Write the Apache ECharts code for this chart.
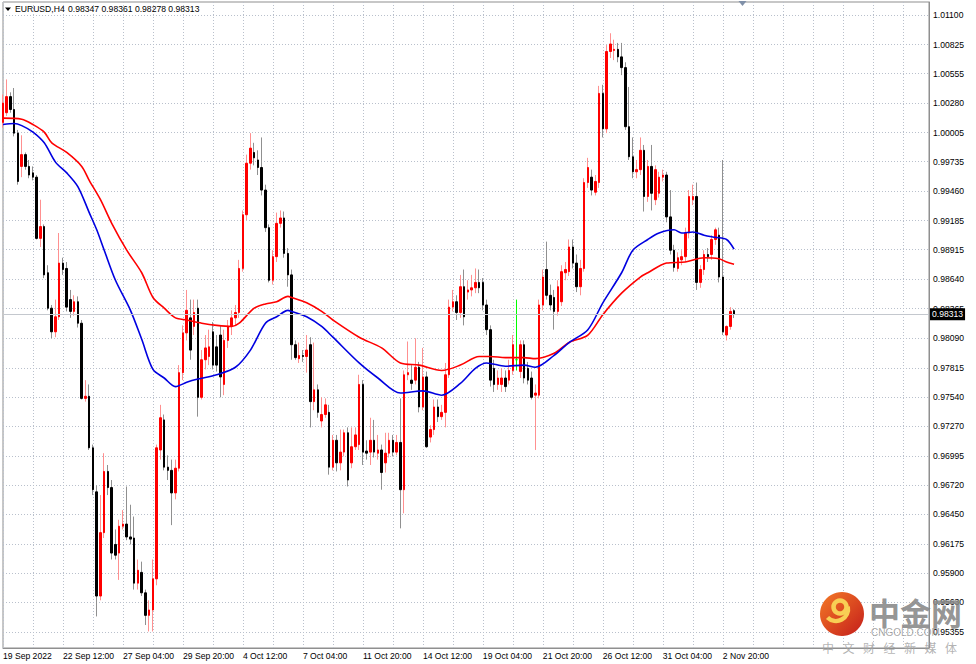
<!DOCTYPE html>
<html><head><meta charset="utf-8">
<script src="https://cdn.jsdelivr.net/npm/echarts@6/dist/echarts.min.js"></script>
<style>html,body{margin:0;padding:0;background:#fff}#c{width:976px;height:664px}</style>
</head><body><div id="c"></div>
<script>
// ---- data (EURUSD H4) ----
const symbolName = 'EURUSD,H4';
const xTickLabels = ['19 Sep 2022','22 Sep 12:00','27 Sep 04:00','29 Sep 20:00','4 Oct 12:00','7 Oct 04:00','11 Oct 20:00','14 Oct 12:00','19 Oct 04:00','21 Oct 20:00','26 Oct 12:00','31 Oct 04:00','2 Nov 20:00'];
const barsPerLabel = 16;
const totalSlots = 248;

const open = [
1.0010,1.0019,1.0034,1.0022,1.0000,0.9969,0.9980,0.9969,0.9963,0.9959,
0.9902,0.9913,0.9870,0.9837,0.9815,0.9829,0.9879,0.9874,0.9845,0.9834,
0.9843,0.9823,0.9753,0.9755,0.9707,0.9666,0.9569,0.9628,0.9685,0.9670,
0.9617,0.9609,0.9634,0.9636,0.9624,0.9623,0.9581,0.9591,0.9572,0.9551,
0.9556,0.9585,0.9705,0.9733,0.9689,0.9686,0.9665,0.9688,0.9777,0.9814,
0.9828,0.9820,0.9837,0.9754,0.9789,0.9792,0.9815,0.9801,0.9812,0.9766,
0.9807,0.9820,0.9828,0.9833,0.9874,0.9924,0.9972,0.9982,0.9975,0.9968,
0.9947,0.9912,0.9863,0.9885,0.9916,0.9921,0.9888,0.9868,0.9803,0.9790,
0.9793,0.9792,0.9803,0.9750,0.9761,0.9732,0.9738,0.9740,0.9689,0.9714,
0.9693,0.9703,0.9721,0.9693,0.9708,0.9710,0.9766,0.9704,0.9703,0.9714,
0.9702,0.9705,0.9693,0.9702,0.9714,0.9703,0.9712,0.9668,0.9775,0.9770,
0.9770,0.9782,0.9745,0.9773,0.9717,0.9724,0.9745,0.9736,0.9740,0.9775,
0.9838,0.9843,0.9833,0.9857,0.9852,0.9854,0.9856,0.9861,0.9861,0.9840,
0.9817,0.9781,0.9766,0.9766,0.9772,0.9770,0.9779,0.9789,0.9778,0.9803,
0.9781,0.9772,0.9756,0.9756,0.9840,0.9873,0.9849,0.9847,0.9834,0.9843,
0.9870,0.9871,0.9894,0.9879,0.9857,0.9874,0.9954,0.9959,0.9945,0.9954,
1.0037,1.0004,1.0076,1.0077,1.0078,1.0071,1.0061,1.0006,0.9978,0.9964,
0.9966,0.9984,0.9941,0.9969,0.9938,0.9944,0.9959,0.9961,0.9922,0.9891,
0.9874,0.9882,0.9885,0.9907,0.9938,0.9941,0.9861,0.9873,0.9887,0.9887,
0.9901,0.9905,0.9866,0.9812,0.9820,0.98347];
const close = [
1.0028,1.0034,1.0022,1.0000,0.9955,0.9980,0.9969,0.9961,0.9959,0.9902,
0.9913,0.9868,0.9837,0.9815,0.9829,0.9879,0.9873,0.9838,0.9834,0.9843,
0.9823,0.9753,0.9755,0.9707,0.9668,0.9569,0.9628,0.9685,0.9670,0.9609,
0.9607,0.9634,0.9636,0.9624,0.9622,0.9581,0.9593,0.9572,0.9551,0.9556,
0.9585,0.9707,0.9735,0.9689,0.9686,0.9665,0.9688,0.9777,0.9814,0.9835,
0.9798,0.9833,0.9754,0.9789,0.9800,0.9801,0.9784,0.9784,0.9773,0.9807,
0.9820,0.9828,0.9833,0.9874,0.9924,0.9972,0.9986,0.9977,0.9968,0.9947,
0.9912,0.9863,0.9885,0.9916,0.9921,0.9888,0.9868,0.9803,0.9791,0.9793,
0.9792,0.9798,0.9750,0.9761,0.9740,0.9738,0.9747,0.9689,0.9714,0.9693,
0.9703,0.9721,0.9677,0.9708,0.9719,0.9766,0.9703,0.9702,0.9714,0.9703,
0.9705,0.9684,0.9702,0.9714,0.9703,0.9712,0.9668,0.9775,0.9777,0.9767,
0.9782,0.9745,0.9773,0.9708,0.9724,0.9745,0.9736,0.9740,0.9775,0.9838,
0.9843,0.9833,0.9857,0.9829,0.9854,0.9856,0.9861,0.9856,0.9840,0.9817,
0.9770,0.9766,0.9772,0.9772,0.9764,0.9779,0.9803,0.9789,0.9803,0.9772,
0.9770,0.9754,0.9758,0.9840,0.9866,0.9849,0.9840,0.9834,0.9857,0.9871,
0.9873,0.9894,0.9879,0.9857,0.9874,0.9954,0.9968,0.9947,0.9955,1.0037,
1.0004,1.0076,1.0083,1.0078,1.0071,1.0061,1.0006,0.9978,0.9964,0.9966,
0.9984,0.9941,0.9969,0.9944,0.9966,0.9959,0.9961,0.9922,0.9891,0.9875,
0.9884,0.9885,0.9907,0.9941,0.9941,0.9861,0.9873,0.9887,0.9885,0.9901,
0.9910,0.9866,0.9815,0.9820,0.9834,0.98313];
const low = [
1.0005,1.0016,1.0019,0.9997,0.9952,0.9959,0.9966,0.9958,0.9956,0.9901,
0.9894,0.9865,0.9835,0.9809,0.9810,0.9826,0.9868,0.9834,0.9828,0.9830,
0.9819,0.9752,0.9750,0.9705,0.9663,0.9550,0.9565,0.9623,0.9663,0.9603,
0.9603,0.9584,0.9631,0.9621,0.9617,0.9575,0.9575,0.9569,0.9542,0.9536,
0.9536,0.9579,0.9696,0.9686,0.9677,0.9635,0.9659,0.9685,0.9770,0.9807,
0.9789,0.9812,0.9736,0.9752,0.9780,0.9784,0.9780,0.9778,0.9754,0.9756,
0.9800,0.9812,0.9821,0.9828,0.9871,0.9919,0.9966,0.9970,0.9961,0.9942,
0.9908,0.9861,0.9859,0.9880,0.9912,0.9884,0.9857,0.9789,0.9789,0.9786,
0.9787,0.9777,0.9726,0.9742,0.9735,0.9726,0.9735,0.9682,0.9686,0.9685,
0.9686,0.9699,0.9671,0.9688,0.9705,0.9705,0.9691,0.9696,0.9691,0.9698,
0.9696,0.9668,0.9684,0.9698,0.9699,0.9700,0.9632,0.9646,0.9770,0.9761,
0.9766,0.9740,0.9742,0.9707,0.9712,0.9719,0.9731,0.9733,0.9726,0.9772,
0.9834,0.9826,0.9828,0.9821,0.9845,0.9848,0.9851,0.9851,0.9835,0.9812,
0.9764,0.9759,0.9761,0.9759,0.9759,0.9766,0.9775,0.9779,0.9772,0.9767,
0.9766,0.9752,0.9705,0.9753,0.9835,0.9845,0.9835,0.9817,0.9830,0.9839,
0.9863,0.9867,0.9874,0.9852,0.9849,0.9871,0.9949,0.9942,0.9942,0.9949,
0.9996,1.0000,1.0070,1.0068,1.0066,1.0054,1.0003,0.9975,0.9958,0.9958,
0.9961,0.9927,0.9936,0.9928,0.9933,0.9940,0.9955,0.9917,0.9887,0.9871,
0.9871,0.9877,0.9880,0.9902,0.9933,0.9854,0.9856,0.9868,0.9880,0.9882,
0.9896,0.9861,0.9812,0.9807,0.9817,0.98278];
const high = [
1.0036,1.0050,1.0038,1.0042,1.0003,0.9998,0.9982,0.9975,0.9969,0.9961,
0.9938,0.9915,0.9877,0.9840,0.9845,0.9907,0.9884,0.9880,0.9854,0.9849,
0.9848,0.9826,0.9770,0.9766,0.9710,0.9672,0.9663,0.9702,0.9691,0.9677,
0.9631,0.9640,0.9649,0.9671,0.9654,0.9643,0.9603,0.9601,0.9575,0.9565,
0.9603,0.9710,0.9747,0.9738,0.9700,0.9696,0.9696,0.9784,0.9821,0.9854,
0.9845,0.9845,0.9845,0.9798,0.9812,0.9817,0.9824,0.9812,0.9821,0.9817,
0.9826,0.9835,0.9840,0.9882,0.9928,0.9980,1.0000,0.9991,0.9984,0.9996,
0.9952,0.9915,0.9891,0.9926,0.9928,0.9927,0.9893,0.9873,0.9807,0.9805,
0.9798,0.9812,0.9810,0.9805,0.9766,0.9754,0.9753,0.9747,0.9719,0.9719,
0.9724,0.9724,0.9726,0.9726,0.9726,0.9775,0.9770,0.9714,0.9735,0.9733,
0.9719,0.9710,0.9721,0.9721,0.9719,0.9719,0.9753,0.9779,0.9806,0.9784,
0.9809,0.9787,0.9800,0.9778,0.9728,0.9752,0.9752,0.9747,0.9786,0.9845,
0.9854,0.9849,0.9868,0.9873,0.9863,0.9868,0.9874,0.9873,0.9865,0.9845,
0.9821,0.9789,0.9779,0.9781,0.9779,0.9789,0.9812,0.9845,0.9807,0.9807,
0.9787,0.9778,0.9766,0.9845,0.9873,0.9899,0.9859,0.9854,0.9863,0.9877,
0.9880,0.9901,0.9901,0.9887,0.9882,0.9958,0.9977,0.9966,0.9961,1.0044,
1.0045,1.0082,1.0093,1.0087,1.0084,1.0084,1.0066,1.0043,0.9996,0.9975,
0.9996,0.9989,0.9975,0.9989,0.9970,0.9964,0.9966,0.9964,0.9947,0.9896,
0.9889,0.9891,0.9912,0.9947,0.9952,0.9954,0.9877,0.9891,0.9893,0.9905,
0.9912,0.9912,0.9975,0.9821,0.9838,0.98361];

// moving averages, read at sample bars
const maFastBars = [0,3,5,8,11,14,17,20,23,25,27,30,34,37,40,43,46,49,52,57,62,66,70,73,76,77,81,85,88,95,100,106,112,117,122,126,129,134,139,142,147,151,156,160,165,168,172,175,179,181,184,187,190,193,195];
const maFastValues = [1.0008,1.0009,1.0007,1.0001,0.9991,0.9973,0.9963,0.9950,0.9926,0.9910,0.9891,0.9863,0.9835,0.9808,0.9780,0.9772,0.9764,0.9768,0.9771,0.9775,0.9782,0.9798,0.9823,0.9829,0.9835,0.9834,0.9829,0.9820,0.9810,0.9786,0.9772,0.9758,0.9760,0.9756,0.9767,0.9781,0.9786,0.9783,0.9784,0.9782,0.9793,0.9805,0.9817,0.9842,0.9870,0.9891,0.9901,0.9907,0.9910,0.9907,0.9908,0.9905,0.9903,0.9901,0.9892];
const maSlowBars = [0,5,8,11,13,17,21,23,26,29,33,37,40,43,46,49,53,57,61,63,67,70,73,76,77,81,85,88,95,101,106,111,117,122,127,130,134,139,142,147,151,156,160,165,170,172,177,182,187,191,193,195];
const maSlowValues = [1.0014,1.0013,1.0008,1.0001,0.9991,0.9982,0.9969,0.9956,0.9938,0.9916,0.9891,0.9870,0.9847,0.9837,0.9828,0.9826,0.9823,0.9821,0.9820,0.9823,0.9837,0.9841,0.9843,0.9848,0.9847,0.9842,0.9834,0.9826,0.9810,0.9800,0.9786,0.9784,0.9779,0.9784,0.9792,0.9792,0.9791,0.9791,0.9790,0.9795,0.9805,0.9812,0.9831,0.9851,0.9866,0.9870,0.9879,0.9880,0.9884,0.9883,0.9880,0.9878];

const yTicks = [0.95355,0.95630,0.95900,0.96175,0.96450,0.96720,0.96995,0.97270,0.97540,0.97815,0.98090,0.98365,0.98640,0.98915,0.99185,0.99460,0.99735,1.00005,1.00280,1.00555,1.00825,1.01100];
const yMin = 0.95206, yMax = 1.01221;

// ---- chart ----
const FONT = "'Liberation Sans', Arial, sans-serif";
const CJK = "'Noto Sans CJK SC', sans-serif";
const N = open.length;
const last = N - 1;
const slots = [];
for (let i = 0; i < totalSlots; i++) slots.push('b' + i);
const dojiStyle = {color:'#00ff00', color0:'#00ff00', borderColor:'#00ff00', borderColor0:'#00ff00'};
const isDoji = i => open[i] === close[i];
const wickData = open.map((o, i) => {
  const v = [o, close[i], low[i], high[i]];
  return isDoji(i) ? {value: v, itemStyle: dojiStyle} : v;
});
const bodyData = open.map((o, i) => {
  const v = [o, close[i], Math.min(o, close[i]), Math.max(o, close[i])];
  return isDoji(i) ? {value: v, itemStyle: dojiStyle} : v;
});
const quoteText = [open[last], high[last], low[last], close[last]].map(v => v.toFixed(5)).join(' ');
const titleStyle = {fontSize: 8.6, fontWeight: 'normal', fontFamily: FONT, color: '#000', lineHeight: 12};

const chart = echarts.init(document.getElementById('c'), null, {renderer: 'svg', width: 976, height: 664});
const option = {
  animation: false,
  backgroundColor: '#ffffff',
  title: [
    {text: symbolName, left: 15, top: 3, padding: 0, textStyle: titleStyle},
    {text: quoteText, left: 68, top: 3, padding: 0, textStyle: titleStyle}
  ],
  grid: {left: 3, right: 47, top: 2, bottom: 16, show: true, borderColor: '#8f8f8f', borderWidth: 1, backgroundColor: 'transparent'},
  xAxis: {
    type: 'category', data: slots, boundaryGap: false,
    axisLine: {show: true, lineStyle: {color: '#8f8f8f'}},
    axisTick: {show: false},
    axisLabel: {interval: barsPerLabel - 1, formatter: (v, idx) => xTickLabels[idx / barsPerLabel] || '',
      align: 'left', margin: 3, color: '#000', fontSize: 8.6, fontFamily: FONT, showMaxLabel: false},
    splitLine: {show: true, interval: 7, lineStyle: {color: '#b9c0cc', type: [1, 2], width: 1}}
  },
  yAxis: {
    type: 'value', position: 'right', min: yMin, max: yMax, scale: true,
    axisLine: {show: true, lineStyle: {color: '#8f8f8f'}},
    axisTick: {show: false, customValues: yTicks},
    axisLabel: {customValues: yTicks, formatter: v => v.toFixed(5), color: '#000', fontSize: 8.6, fontFamily: FONT, margin: 4},
    splitLine: {show: true, lineStyle: {color: '#b9c0cc', type: [1, 2], width: 1}}
  },
  series: [
    {type: 'candlestick', name: 'wicks', data: wickData, barWidth: 1, silent: true,
      itemStyle: {color: 'transparent', color0: 'transparent', borderColor: '#ff9090', borderColor0: '#909090', borderWidth: 1}},
    {type: 'candlestick', name: 'bodies', data: bodyData, barWidth: 2, silent: true,
      itemStyle: {color: '#ff0000', color0: '#000000', borderColor: '#ff0000', borderColor0: '#000000', borderWidth: 1}},
    {type: 'line', name: 'MA slow', data: maSlowBars.map((b, k) => [b, maSlowValues[k]]), showSymbol: false, smooth: 0.3, silent: true,
      lineStyle: {color: '#ff0000', width: 1.6}},
    {type: 'line', name: 'MA fast', data: maFastBars.map((b, k) => [b, maFastValues[k]]), showSymbol: false, smooth: 0.3, silent: true,
      lineStyle: {color: '#0000e0', width: 1.6},
      markLine: {silent: true, symbol: ['none', 'none'], animation: false, precision: 5,
        lineStyle: {color: '#c4c8ce', width: 1, type: 'solid'},
        label: {show: true, position: 'end', distance: 1, formatter: () => close[last].toFixed(5),
          backgroundColor: '#000', color: '#fff', fontSize: 8.6, fontFamily: FONT, padding: [2, 2, 1, 2]},
        emphasis: {disabled: true},
        data: [{yAxis: close[last]}]}}
  ],
  graphic: [
    {type: 'polygon', z: 100, silent: true, shape: {points: [[5, 7.5], [11, 7.5], [8, 11]]}, style: {fill: '#000'}},
    {type: 'polygon', z: 100, silent: true, shape: {points: [[738.5, 1], [746.5, 1], [742.5, 6]]}, style: {fill: '#8090a8'}},
    {type: 'group', z: 100, silent: true, children: [
      {type: 'circle', z: 100, shape: {cx: 842, cy: 614, r: 22},
        style: {fill: {type: 'linear', x: 0, y: 0, x2: 1, y2: 1, colorStops: [{offset: 0, color: '#f47a26'}, {offset: 1, color: '#c41d1b'}]}}},
      {type: 'circle', z: 101, shape: {cx: 840, cy: 607, r: 6.5}, style: {fill: 'none', stroke: '#f8cf55', lineWidth: 4.5}},
      {type: 'arc', z: 101, shape: {cx: 836, cy: 609, r: 12, startAngle: -0.2, endAngle: Math.PI * 0.75}, style: {fill: 'none', stroke: '#f8cf55', lineWidth: 4.5}},
      {type: 'text', z: 100, x: 869, y: 611, style: {text: '中金网', fontSize: 31, fontWeight: 'bold', fontFamily: CJK, fill: 'rgba(135,135,135,0.9)', verticalAlign: 'middle'}},
      {type: 'text', z: 100, x: 871, y: 632, style: {text: 'CNGOLD.COM', fontSize: 10, fontFamily: FONT, fill: 'rgba(150,150,150,0.85)', verticalAlign: 'middle'}}
    ].concat('中文财经新媒体'.split('').map((ch, k) => ({
      type: 'text', z: 100, x: 822 + k * 20.5, y: 647,
      style: {text: ch, fontSize: 12, fontFamily: CJK, fill: 'rgba(165,165,165,0.85)', verticalAlign: 'middle'}})))}
  ]
};
chart.setOption(option);
</script>
</body></html>
